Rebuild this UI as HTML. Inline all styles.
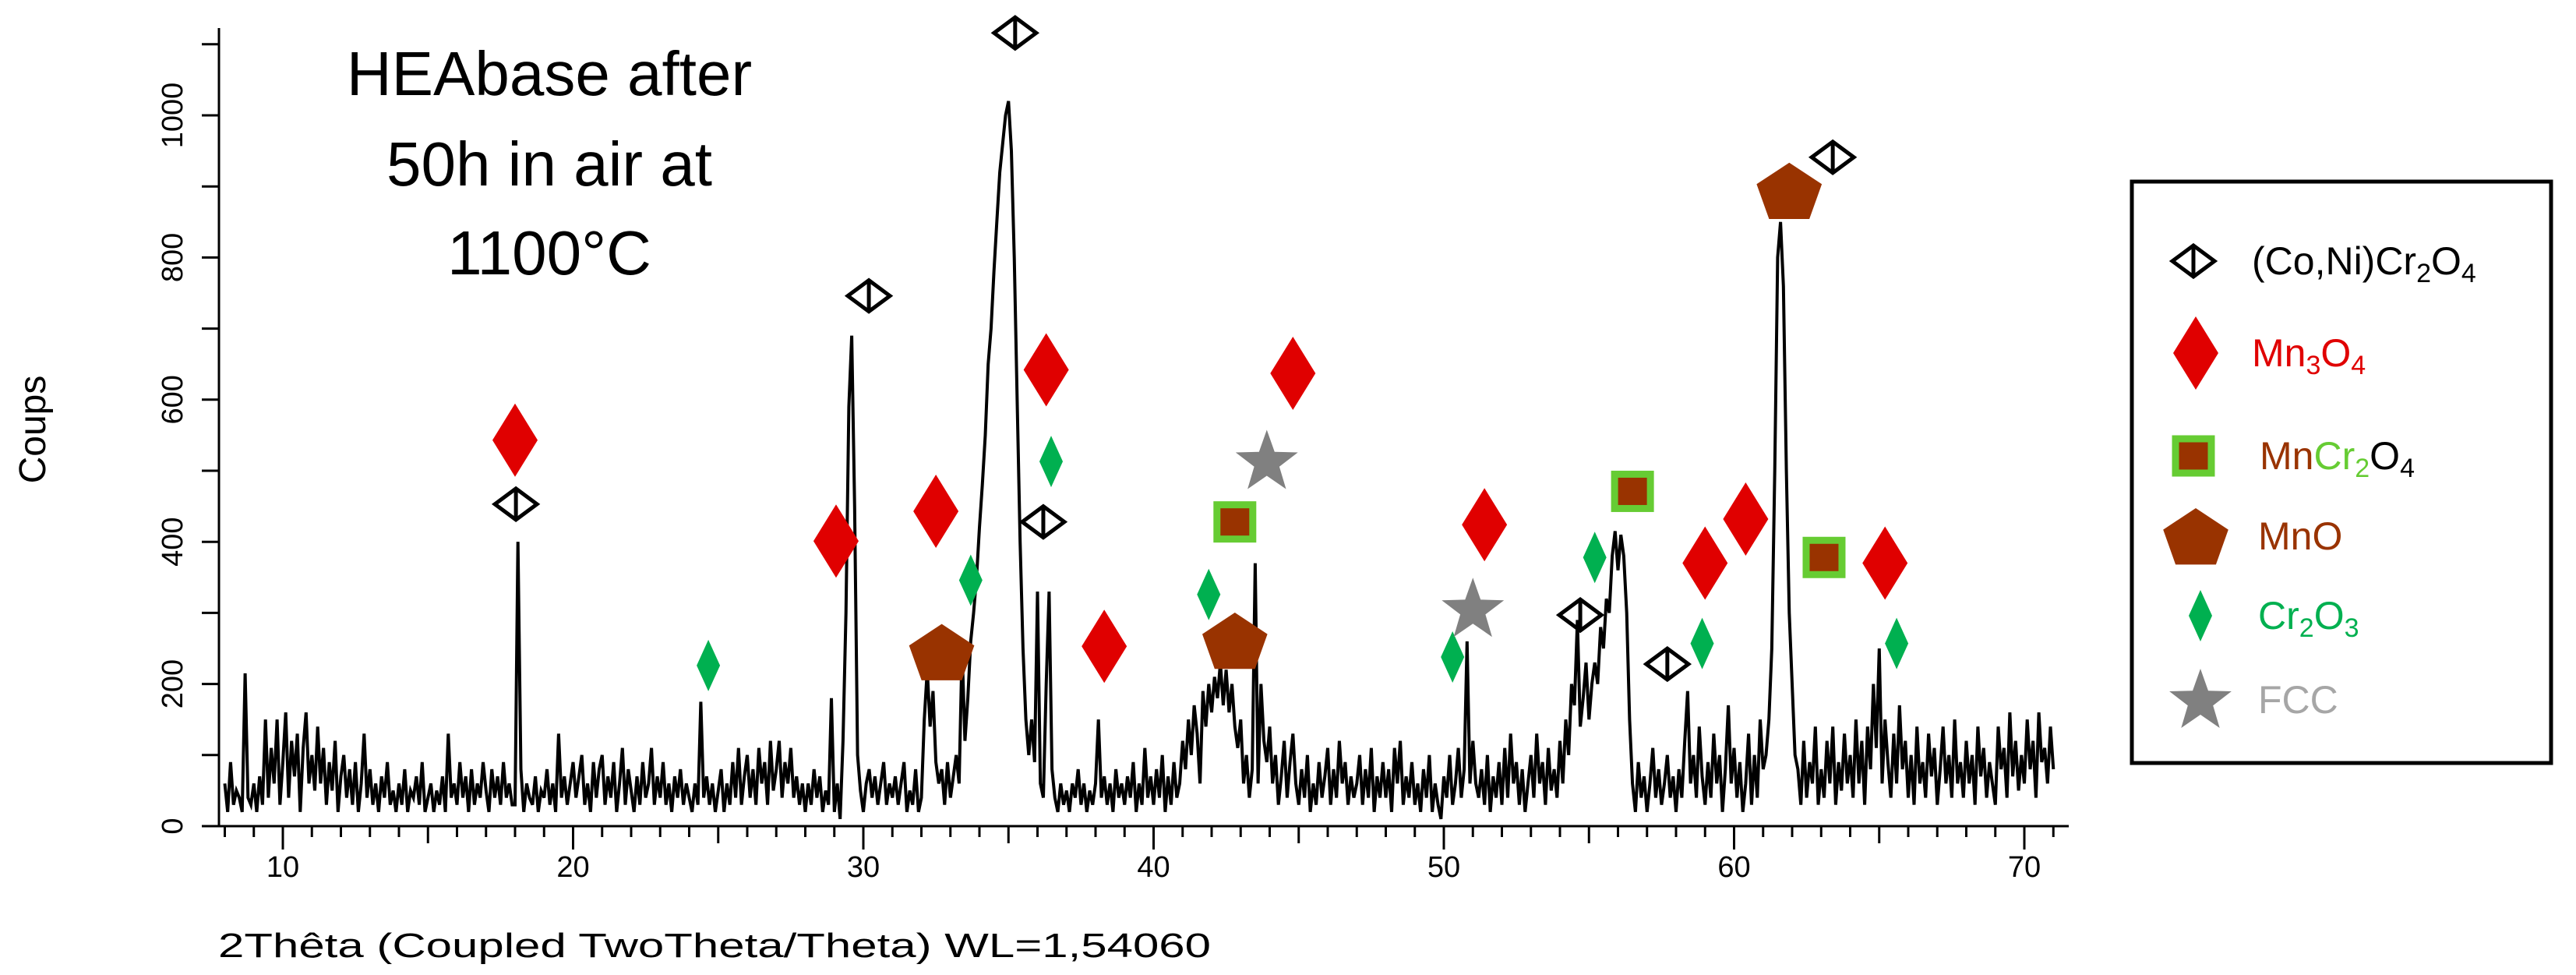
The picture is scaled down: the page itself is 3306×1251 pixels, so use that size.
<!DOCTYPE html>
<html><head><meta charset="utf-8"><style>
html,body{margin:0;padding:0;background:#fff;}
svg{display:block;font-family:"Liberation Sans",sans-serif;}
</style></head><body>
<svg id="chart" width="3306" height="1251" viewBox="0 0 3306 1251" xmlns="http://www.w3.org/2000/svg">
<g id="axes"></g>
<g id="series"></g>
<g id="markers"></g>
<text x="705" y="122" font-size="80" text-anchor="middle" fill="#000">HEAbase after</text>
<text x="705" y="238" font-size="80" text-anchor="middle" fill="#000">50h in air at</text>
<text x="705" y="352" font-size="80" text-anchor="middle" fill="#000">1100°C</text>
<text x="280" y="1228" font-size="44" textLength="1274" lengthAdjust="spacingAndGlyphs" fill="#000">2Thêta (Coupled TwoTheta/Theta) WL=1,54060</text>
<text transform="translate(58,551) rotate(-90)" font-size="48" text-anchor="middle" fill="#000">Coups</text>
<g id="legend">
<rect x="2736" y="233" width="538" height="746" fill="#fff" stroke="#000" stroke-width="5"/>
<text x="2890" y="352" font-size="50" fill="#000">(Co,Ni)Cr<tspan font-size="34" dy="10">2</tspan><tspan dy="-10">O</tspan><tspan font-size="34" dy="10">4</tspan></text>
<text x="2890" y="470" font-size="50" fill="#e00000">Mn<tspan font-size="34" dy="10">3</tspan><tspan dy="-10">O</tspan><tspan font-size="34" dy="10">4</tspan></text>
<text x="2900" y="602" font-size="50" fill="#993300">Mn<tspan fill="#66cc33">Cr</tspan><tspan font-size="34" dy="10" fill="#66cc33">2</tspan><tspan dy="-10" fill="#000">O</tspan><tspan font-size="34" dy="10" fill="#000">4</tspan></text>
<text x="2898" y="705" font-size="50" fill="#993300">MnO</text>
<text x="2898" y="807" font-size="50" fill="#00b050">Cr<tspan font-size="34" dy="10">2</tspan><tspan dy="-10">O</tspan><tspan font-size="34" dy="10">3</tspan></text>
<text x="2898" y="915" font-size="50" fill="#a6a6a6">FCC</text>
</g>
</svg>
<script>
const xStart = 8.0;
const xStep = 0.1;
const counts = [
60,20,90,30,50,40,20,215,40,30,
60,20,70,30,150,40,110,60,150,30,
90,160,40,120,70,130,20,110,160,60,
100,50,140,60,110,30,90,50,120,20,
70,100,40,80,30,90,20,60,130,40,
80,30,60,20,70,40,90,30,50,20,
60,30,80,20,50,40,70,30,90,20,
40,60,20,50,30,70,20,130,40,60,
30,90,40,70,20,80,30,60,40,90,
50,20,80,40,70,30,90,40,60,30,
30,400,80,20,60,40,30,70,20,50,
40,80,30,60,20,130,40,70,30,60,
90,40,70,100,30,60,20,90,40,80,
100,30,70,40,90,20,60,110,30,80,
50,20,70,30,90,40,60,110,30,70,
40,90,30,60,20,70,40,80,30,60,
40,20,60,30,175,40,70,30,60,20,
50,80,20,60,30,90,40,110,30,70,
100,40,80,30,110,60,90,30,120,50,
80,120,40,90,60,110,40,70,30,60,
20,60,30,80,40,70,20,50,30,180,
20,60,10,120,300,590,690,450,100,50,
20,60,80,40,70,30,60,90,30,60,
40,70,30,60,90,20,50,30,80,20,
40,150,220,140,190,90,60,80,30,90,
40,70,100,60,250,120,180,260,300,350,
420,480,550,650,700,780,850,920,960,1000,
1020,950,800,600,400,250,150,100,150,90,
330,60,40,200,330,80,40,20,60,30,
50,20,60,40,80,30,60,20,50,30,
60,150,40,70,30,60,20,80,40,60,
30,70,40,90,20,60,30,110,40,70,
30,80,40,100,20,70,30,90,40,60,
120,80,150,100,170,130,60,190,140,200,
160,210,180,230,170,220,160,200,140,110,
150,60,100,40,80,370,60,200,120,90,
140,60,100,30,70,120,40,90,130,60,
30,80,40,100,20,60,30,90,40,70,
110,30,80,40,120,60,90,30,70,40,
60,100,30,80,40,110,20,70,40,90,
40,80,20,110,60,120,30,70,40,90,
30,60,20,80,40,100,20,60,30,10,
70,40,100,30,60,110,40,80,260,60,
120,60,40,80,30,100,20,70,40,90,
30,110,40,130,60,90,30,80,20,60,
100,40,130,60,90,30,110,50,80,40,
120,60,150,100,200,170,290,140,180,230,
150,200,230,200,280,250,320,300,380,415,
360,410,380,300,150,60,20,90,40,70,
20,60,110,40,80,30,60,100,40,70,
20,80,40,120,190,60,100,40,140,70,
30,90,40,130,60,100,20,80,170,60,
110,40,90,20,60,130,30,100,40,150,
80,100,150,250,500,800,850,760,500,300,
200,100,80,30,120,40,90,60,140,30,
80,40,120,60,140,30,90,50,130,60,
100,40,150,60,120,30,140,80,200,110,
250,60,150,90,40,130,60,170,80,120,
40,100,30,140,60,90,40,130,70,110,
30,80,140,60,100,40,150,60,90,40,
120,60,100,30,140,70,110,40,90,60,
30,140,80,110,40,160,70,120,50,100,
60,150,80,120,40,160,90,110,60,140,
80];
const xTickLabels = [10,20,30,40,50,60,70];
const yTickLabels = [0,200,400,600,800,1000];
const coniCr2O4 = [[18.03,453],[30.19,746],[35.23,1116],[36.2,428],[54.7,297],[57.7,228],[63.4,941]];
const mn3O4 = [[18.0,543],[29.06,401],[32.5,443],[36.3,642],[38.3,253],[44.8,637],[51.4,424],[59.0,370],[60.4,432],[65.2,370]];
const cr2O3 = [[24.66,226],[33.7,346],[36.47,513],[41.9,326],[50.3,238],[55.2,378],[58.9,257],[65.6,257]];
const mnO = [[32.7,245],[42.8,261],[61.9,894]];
const mnCr2O4 = [[42.8,428],[56.5,471],[63.1,378]];
const fcc = [[43.9,517],[51.0,309]];

const NS = "http://www.w3.org/2000/svg";
const X = v => 363 + (v - 10) * 37.25;
const Y = v => 1060 - v * 0.912;
function mk(tag, attrs, parent) {
  const e = document.createElementNS(NS, tag);
  for (const k in attrs) e.setAttribute(k, attrs[k]);
  parent.appendChild(e);
  return e;
}
const axes = document.getElementById('axes');
let e = mk('line', {x1:281, y1:Y(0), x2:2655, y2:Y(0), stroke:'#000', 'stroke-width':3}, axes);


e = mk('line', {x1:281, y1:36, x2:281, y2:Y(0), stroke:'#000', 'stroke-width':3}, axes);


for (let d = 8; d <= 71; d++) {
  const len = d % 10 === 0 ? 30 : (d % 5 === 0 ? 22 : 14);
  e = mk('line', {x1:X(d), y1:Y(0), x2:X(d), y2:Y(0)+len, stroke:'#000', 'stroke-width':3}, axes);
  
  
}
for (let c = 0; c <= 1100; c += 100) {
  e = mk('line', {x1:259, y1:Y(c), x2:281, y2:Y(c), stroke:'#000', 'stroke-width':3}, axes);
  
  
}
xTickLabels.forEach(v => {
  const t = mk('text', {x:X(v), y:1125, 'font-size':38, 'text-anchor':'middle'}, axes);
  t.textContent = v;
  
  
});
yTickLabels.forEach(v => {
  const t = mk('text', {transform:`translate(234,${Y(v)}) rotate(-90)`, 'font-size':38, 'text-anchor':'middle'}, axes);
  t.textContent = v;
  
  
});
const series = document.getElementById('series');
let d = '';
counts.forEach((c, i) => { d += (i ? 'L' : 'M') + X(xStart + i * xStep).toFixed(1) + ' ' + Y(c).toFixed(1); });
e = mk('path', {d:d, fill:'none', stroke:'#000', 'stroke-width':4}, series);



function diamondOutline(cx, cy, p) {
  const g = mk('g', {}, p);
  mk('polygon', {points:`${cx-27},${cy} ${cx},${cy-20} ${cx+27},${cy} ${cx},${cy+20}`, fill:'none', stroke:'#000', 'stroke-width':5}, g);
  mk('line', {x1:cx, y1:cy-20, x2:cx, y2:cy+20, stroke:'#000', 'stroke-width':5}, g);
  return g;
}
function redDiamond(cx, cy, p) {
  return mk('polygon', {points:`${cx-29},${cy} ${cx},${cy-47} ${cx+29},${cy} ${cx},${cy+47}`, fill:'#e00000'}, p);
}
function greenDiamond(cx, cy, p) {
  return mk('polygon', {points:`${cx-15},${cy} ${cx},${cy-33} ${cx+15},${cy} ${cx},${cy+33}`, fill:'#00b050'}, p);
}
function pentagon(cx, cy, p) {
  let pts = [];
  for (let k = 0; k < 5; k++) { const a = -Math.PI/2 + k * 2 * Math.PI / 5; pts.push((cx + 44 * Math.cos(a)).toFixed(1) + ',' + (cy + 4 + 40 * Math.sin(a)).toFixed(1)); }
  return mk('polygon', {points:pts.join(' '), fill:'#993300'}, p);
}
function square(cx, cy, p) {
  return mk('rect', {x:cx-23, y:cy-22, width:46, height:44, fill:'#993300', stroke:'#66cc33', 'stroke-width':9}, p);
}
function star(cx, cy, p) {
  let pts = [];
  for (let k = 0; k < 10; k++) { const a = -Math.PI/2 + k * Math.PI / 5; const r = k % 2 ? 17 : 42; pts.push((cx + r * Math.cos(a)).toFixed(1) + ',' + (cy + 5 + r * Math.sin(a)).toFixed(1)); }
  return mk('polygon', {points:pts.join(' '), fill:'#808080'}, p);
}
const mg = document.getElementById('markers');
coniCr2O4.forEach(m => { const el = diamondOutline(X(m[0]), Y(m[1]), mg);
  
   });
mn3O4.forEach(m => { const el = redDiamond(X(m[0]), Y(m[1]), mg);
  
   });
cr2O3.forEach(m => { const el = greenDiamond(X(m[0]), Y(m[1]), mg);
  
   });
mnO.forEach(m => { const el = pentagon(X(m[0]), Y(m[1]), mg);
  
   });
mnCr2O4.forEach(m => { const el = square(X(m[0]), Y(m[1]), mg);
  
   });
fcc.forEach(m => { const el = star(X(m[0]), Y(m[1]), mg);
  
   });

const lg = document.getElementById('legend');
let le;
le = diamondOutline(2815, 335, lg);


le = redDiamond(2818, 453, lg);


le = square(2815, 585, lg);


le = pentagon(2818, 688, lg);


le = greenDiamond(2824, 790, lg);


le = star(2824, 895, lg);


</script>
</body></html>
